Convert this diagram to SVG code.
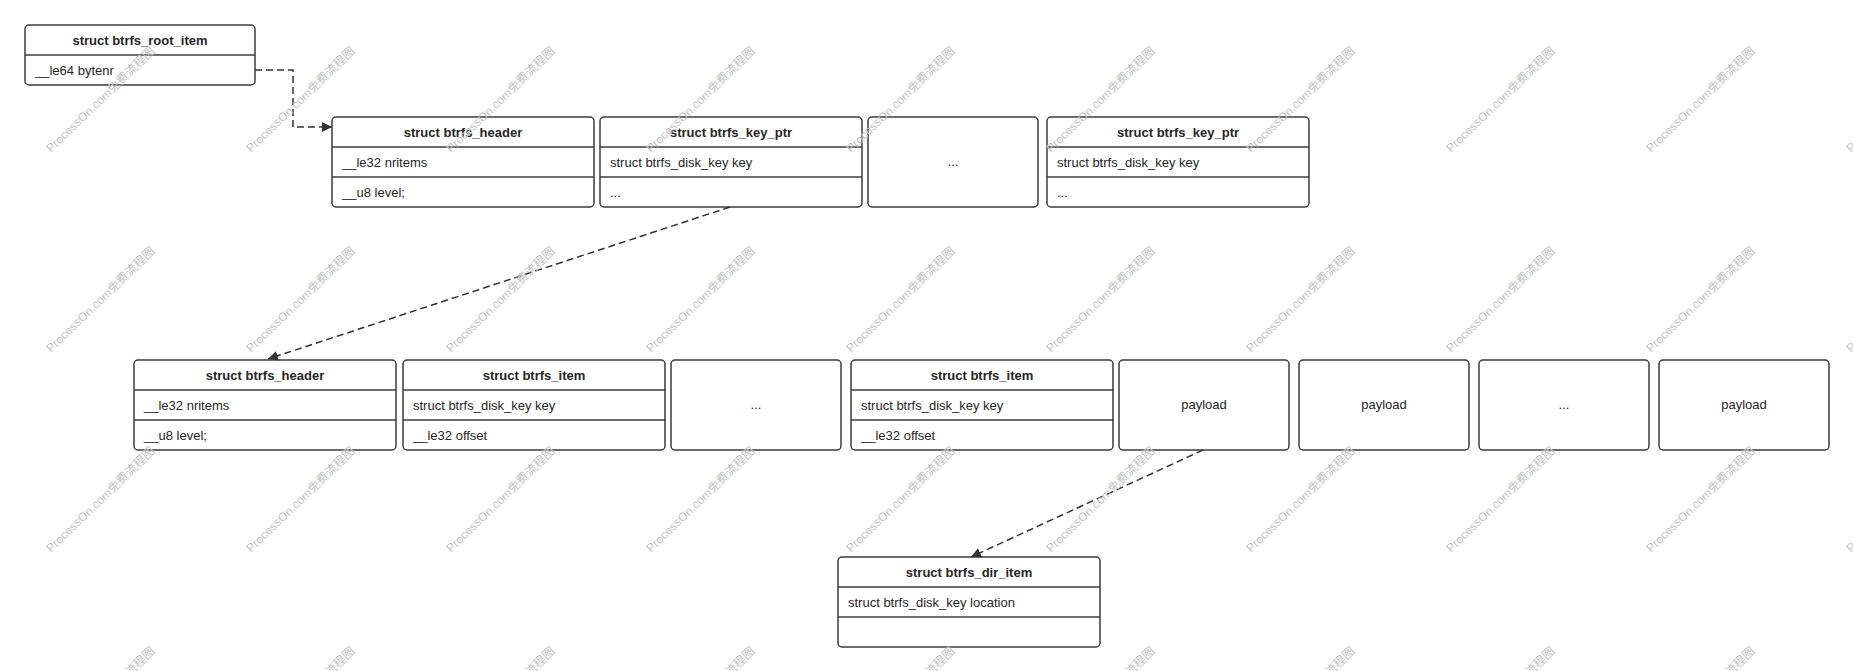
<svg xmlns="http://www.w3.org/2000/svg" xmlns:xlink="http://www.w3.org/1999/xlink" width="1853" height="671" viewBox="0 0 1853 671">
  <style>
    .box { fill: #ffffff; stroke: #3c3c3c; stroke-width: 1.5; }
    .sep { stroke: #3c3c3c; stroke-width: 1.5; }
    .title { font-family: "Liberation Sans", Arial, sans-serif; font-size: 13px; font-weight: bold; fill: #262626; text-anchor: middle; }
    .field { font-family: "Liberation Sans", Arial, sans-serif; font-size: 13px; fill: #262626; }
    .center { font-family: "Liberation Sans", Arial, sans-serif; font-size: 13px; fill: #262626; text-anchor: middle; }
    .link { fill: none; stroke: #333333; stroke-width: 1.5; stroke-dasharray: 7 4; }
    .wm { font-family: "Liberation Sans", "Noto Sans CJK SC", sans-serif; font-size: 12px; fill: #c4c4c4; }
  </style>
  <defs>
    <marker id="arrow" viewBox="0 0 10 10" refX="10" refY="5" markerWidth="10" markerHeight="10" markerUnits="userSpaceOnUse" orient="auto">
      <path d="M0,0 L10,5 L0,10 Z" fill="#333333"/>
    </marker>
    <text id="mark" class="wm" x="0" y="0" transform="rotate(-44)">ProcessOn.com免费流程图</text>
  </defs>

  <rect width="1853" height="671" fill="#ffffff"/>

  <!-- root item -->
  <g id="root_item">
    <rect class="box" x="25" y="25" width="230" height="60" rx="4"/>
    <line class="sep" x1="25" y1="55" x2="255" y2="55"/>
    <text class="title" x="140" y="45">struct btrfs_root_item</text>
    <text class="field" x="35" y="75">__le64 bytenr</text>
  </g>

  <!-- upper node: header + key pointers -->
  <g id="node_header">
    <rect class="box" x="332" y="117" width="262" height="90" rx="4"/>
    <line class="sep" x1="332" y1="147" x2="594" y2="147"/>
    <line class="sep" x1="332" y1="177" x2="594" y2="177"/>
    <text class="title" x="463" y="137">struct btrfs_header</text>
    <text class="field" x="342" y="167">__le32 nritems</text>
    <text class="field" x="342" y="197">__u8 level;</text>
  </g>
  <g id="node_key_ptr_1">
    <rect class="box" x="600" y="117" width="262" height="90" rx="4"/>
    <line class="sep" x1="600" y1="147" x2="862" y2="147"/>
    <line class="sep" x1="600" y1="177" x2="862" y2="177"/>
    <text class="title" x="731" y="137">struct btrfs_key_ptr</text>
    <text class="field" x="610" y="167">struct btrfs_disk_key key</text>
    <text class="field" x="610" y="197">...</text>
  </g>
  <g id="node_key_ptr_more">
    <rect class="box" x="868" y="117" width="170" height="90" rx="4"/>
    <text class="center" x="953" y="166">...</text>
  </g>
  <g id="node_key_ptr_n">
    <rect class="box" x="1047" y="117" width="262" height="90" rx="4"/>
    <line class="sep" x1="1047" y1="147" x2="1309" y2="147"/>
    <line class="sep" x1="1047" y1="177" x2="1309" y2="177"/>
    <text class="title" x="1178" y="137">struct btrfs_key_ptr</text>
    <text class="field" x="1057" y="167">struct btrfs_disk_key key</text>
    <text class="field" x="1057" y="197">...</text>
  </g>

  <!-- leaf: header, items, payloads -->
  <g id="leaf_header">
    <rect class="box" x="134" y="360" width="262" height="90" rx="4"/>
    <line class="sep" x1="134" y1="390" x2="396" y2="390"/>
    <line class="sep" x1="134" y1="420" x2="396" y2="420"/>
    <text class="title" x="265" y="380">struct btrfs_header</text>
    <text class="field" x="144" y="410">__le32 nritems</text>
    <text class="field" x="144" y="440">__u8 level;</text>
  </g>
  <g id="leaf_item_1">
    <rect class="box" x="403" y="360" width="262" height="90" rx="4"/>
    <line class="sep" x1="403" y1="390" x2="665" y2="390"/>
    <line class="sep" x1="403" y1="420" x2="665" y2="420"/>
    <text class="title" x="534" y="380">struct btrfs_item</text>
    <text class="field" x="413" y="410">struct btrfs_disk_key key</text>
    <text class="field" x="413" y="440">__le32 offset</text>
  </g>
  <g id="leaf_item_more">
    <rect class="box" x="671" y="360" width="170" height="90" rx="4"/>
    <text class="center" x="756" y="409">...</text>
  </g>
  <g id="leaf_item_n">
    <rect class="box" x="851" y="360" width="262" height="90" rx="4"/>
    <line class="sep" x1="851" y1="390" x2="1113" y2="390"/>
    <line class="sep" x1="851" y1="420" x2="1113" y2="420"/>
    <text class="title" x="982" y="380">struct btrfs_item</text>
    <text class="field" x="861" y="410">struct btrfs_disk_key key</text>
    <text class="field" x="861" y="440">__le32 offset</text>
  </g>
  <g id="payload_1">
    <rect class="box" x="1119" y="360" width="170" height="90" rx="4"/>
    <text class="center" x="1204" y="409">payload</text>
  </g>
  <g id="payload_2">
    <rect class="box" x="1299" y="360" width="170" height="90" rx="4"/>
    <text class="center" x="1384" y="409">payload</text>
  </g>
  <g id="payload_more">
    <rect class="box" x="1479" y="360" width="170" height="90" rx="4"/>
    <text class="center" x="1564" y="409">...</text>
  </g>
  <g id="payload_n">
    <rect class="box" x="1659" y="360" width="170" height="90" rx="4"/>
    <text class="center" x="1744" y="409">payload</text>
  </g>

  <!-- directory item -->
  <g id="dir_item">
    <rect class="box" x="838" y="557" width="262" height="90" rx="4"/>
    <line class="sep" x1="838" y1="587" x2="1100" y2="587"/>
    <line class="sep" x1="838" y1="617" x2="1100" y2="617"/>
    <text class="title" x="969" y="577">struct btrfs_dir_item</text>
    <text class="field" x="848" y="607">struct btrfs_disk_key location</text>
  </g>

  <!-- connectors -->
  <g id="connectors">
    <path class="link" d="M255,70 H293 V127 H332" marker-end="url(#arrow)"/>
    <path class="link" d="M730,207 L268,359" marker-end="url(#arrow)"/>
    <path class="link" d="M1203,450 L971,557" marker-end="url(#arrow)"/>
  </g>

  <!-- watermark grid -->
  <g id="watermark" pointer-events="none">
    <use xlink:href="#mark" x="51" y="153"/><use xlink:href="#mark" x="251" y="153"/><use xlink:href="#mark" x="451" y="153"/><use xlink:href="#mark" x="651" y="153"/><use xlink:href="#mark" x="851" y="153"/><use xlink:href="#mark" x="1051" y="153"/><use xlink:href="#mark" x="1251" y="153"/><use xlink:href="#mark" x="1451" y="153"/><use xlink:href="#mark" x="1651" y="153"/><use xlink:href="#mark" x="1851" y="153"/>
    <use xlink:href="#mark" x="51" y="353"/><use xlink:href="#mark" x="251" y="353"/><use xlink:href="#mark" x="451" y="353"/><use xlink:href="#mark" x="651" y="353"/><use xlink:href="#mark" x="851" y="353"/><use xlink:href="#mark" x="1051" y="353"/><use xlink:href="#mark" x="1251" y="353"/><use xlink:href="#mark" x="1451" y="353"/><use xlink:href="#mark" x="1651" y="353"/><use xlink:href="#mark" x="1851" y="353"/>
    <use xlink:href="#mark" x="51" y="553"/><use xlink:href="#mark" x="251" y="553"/><use xlink:href="#mark" x="451" y="553"/><use xlink:href="#mark" x="651" y="553"/><use xlink:href="#mark" x="851" y="553"/><use xlink:href="#mark" x="1051" y="553"/><use xlink:href="#mark" x="1251" y="553"/><use xlink:href="#mark" x="1451" y="553"/><use xlink:href="#mark" x="1651" y="553"/><use xlink:href="#mark" x="1851" y="553"/>
    <use xlink:href="#mark" x="51" y="753"/><use xlink:href="#mark" x="251" y="753"/><use xlink:href="#mark" x="451" y="753"/><use xlink:href="#mark" x="651" y="753"/><use xlink:href="#mark" x="851" y="753"/><use xlink:href="#mark" x="1051" y="753"/><use xlink:href="#mark" x="1251" y="753"/><use xlink:href="#mark" x="1451" y="753"/><use xlink:href="#mark" x="1651" y="753"/><use xlink:href="#mark" x="1851" y="753"/>
  </g>
</svg>
